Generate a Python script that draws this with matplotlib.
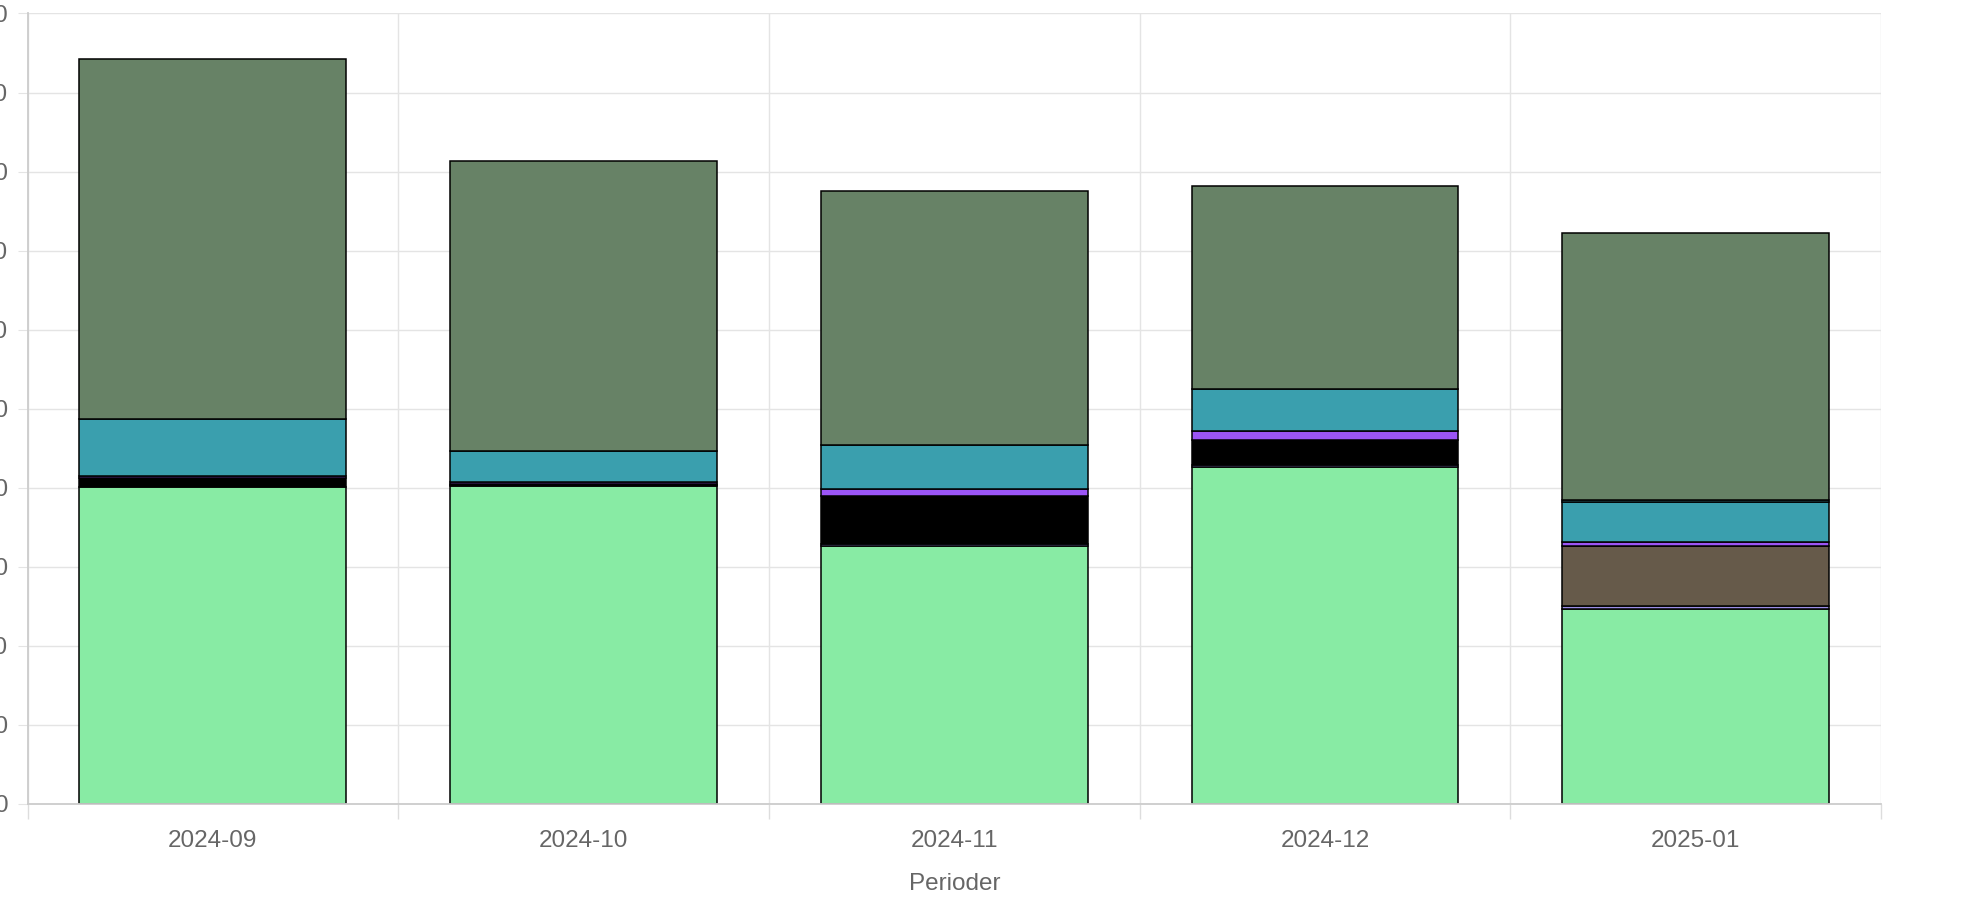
import matplotlib
matplotlib.use("Agg")
import matplotlib.pyplot as plt
import numpy as np

categories = ["2024-09", "2024-10", "2024-11", "2024-12", "2025-01"]

# stacked series, bottom to top
s_green = [40.1, 40.2, 32.6, 42.6, 24.7]
s_lavender = [0.0, 0.15, 0.3, 0.25, 0.3]
s_black = [1.2, 0.1, 6.0, 3.2, 0.0]
s_brown = [0.0, 0.0, 0.0, 0.0, 7.6]
s_purple = [0.2, 0.25, 0.9, 1.1, 0.5]
s_teal = [7.2, 4.0, 5.6, 5.3, 5.1]
s_teal2 = [0.0, 0.0, 0.0, 0.0, 0.3]
s_darkgreen = [45.5, 36.7, 32.1, 25.7, 33.7]

series = [
    (s_green, "#88EBA4"),
    (s_lavender, "#9C8FE6"),
    (s_black, "#000000"),
    (s_brown, "#665A4A"),
    (s_purple, "#9B55F5"),
    (s_teal, "#3A9FAE"),
    (s_teal2, "#4FB3C0"),
    (s_darkgreen, "#678266"),
]

yticks = list(range(0, 101, 10))

plt.rcParams['font.family'] = ['Liberation Sans', 'DejaVu Sans']

fig = plt.figure(figsize=(19.70, 9.18), dpi=100)
ax = fig.add_axes([0.014, 0.1242, 0.9408, 0.8611])

x = np.arange(len(categories))
bottom = np.zeros(len(categories))
for vals, col in series:
    v = np.array(vals, dtype=float)
    mask = v > 0
    ax.bar(x[mask], v[mask], bottom=bottom[mask], width=0.72, color=col,
           edgecolor="black", linewidth=1.1, zorder=3)
    bottom += v

ax.set_xlim(-0.5, len(categories) - 0.5)
ax.set_ylim(0, 100)
ax.set_yticks(yticks)
ax.set_yticklabels([str(t) for t in yticks])
ax.set_xticks(x)
ax.set_xticklabels(categories)
ax.set_xticks(np.arange(-0.5, len(categories)), minor=True)

ax.grid(False)
for yv in yticks:
    ax.axhline(yv, color="#e4e4e4", linewidth=1.0, zorder=0)
for xb in np.arange(-0.5, len(categories)):
    ax.axvline(xb, color="#e4e4e4", linewidth=1.0, zorder=0)

for s in ["top", "right"]:
    ax.spines[s].set_visible(False)
for s in ["left", "bottom"]:
    ax.spines[s].set_color("#cccccc")
    ax.spines[s].set_linewidth(1.3)
    ax.spines[s].set_zorder(4)

ax.tick_params(axis="x", which="major", length=0, pad=19, labelsize=17.5, labelcolor="#666666")
ax.tick_params(axis="x", which="minor", length=11, color="#dddddd", width=1.0)
ax.tick_params(axis="y", which="major", length=7, pad=7, labelsize=17.5, labelcolor="#666666", color="#e4e4e4")

ax.set_xlabel("Perioder", fontsize=17.5, color="#666666", labelpad=15)

fig.savefig("out.png", dpi=100)
